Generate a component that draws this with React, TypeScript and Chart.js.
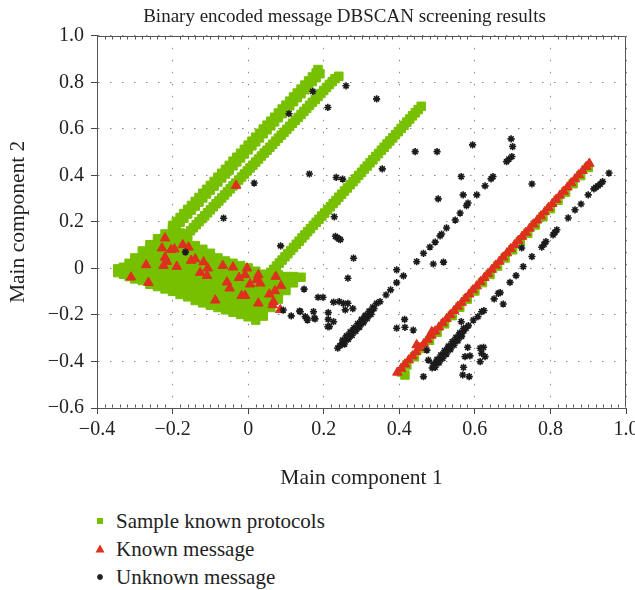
import React, { useEffect, useRef } from 'react';
import { Chart, registerables } from 'chart.js';

Chart.register(...registerables);

type P = [number, number];

const FONT = '"Liberation Serif", "DejaVu Serif", serif';
const GREEN = '#77c000';
const RED = '#de2f1f';
const BLACK = '#1b1b1b';

const chartTitle = 'Binary encoded message DBSCAN screening results';
const xAxisTitle = 'Main component 1';
const yAxisTitle = 'Main component 2';
const seriesNames = ['Sample known protocols', 'Known message', 'Unknown message'];
const xTickValues = [-0.4, -0.2, 0, 0.2, 0.4, 0.6, 0.8, 1.0];
const yTickValues = [-0.6, -0.4, -0.2, 0, 0.2, 0.4, 0.6, 0.8, 1.0];

// ---- Sample known protocols (green squares) ----
const sampleCluster: P[] = [
  [-0.345, -0.018], [-0.345, -0.002],
  [-0.33, -0.025], [-0.33, 0.005],
  [-0.315, -0.035], [-0.315, -0.005], [-0.315, 0.022],
  [-0.3, -0.045], [-0.3, -0.015], [-0.3, 0.015], [-0.3, 0.045],
  [-0.28, -0.052], [-0.28, -0.022], [-0.28, 0.008], [-0.28, 0.038], [-0.28, 0.075],
  [-0.26, -0.068], [-0.26, -0.038], [-0.26, -0.008], [-0.26, 0.022], [-0.26, 0.052], [-0.26, 0.082], [-0.26, 0.102],
  [-0.24, -0.078], [-0.24, -0.048], [-0.24, -0.018], [-0.24, 0.012], [-0.24, 0.042], [-0.24, 0.072], [-0.24, 0.1], [-0.24, 0.128],
  [-0.22, -0.088], [-0.22, -0.058], [-0.22, -0.028], [-0.22, 0.002], [-0.22, 0.032], [-0.22, 0.062], [-0.22, 0.092], [-0.22, 0.122], [-0.22, 0.148],
  [-0.2, -0.098], [-0.2, -0.068], [-0.2, -0.038], [-0.2, -0.008], [-0.2, 0.022], [-0.2, 0.052], [-0.2, 0.082], [-0.2, 0.112], [-0.2, 0.142], [-0.2, 0.165],
  [-0.18, -0.112], [-0.18, -0.082], [-0.18, -0.052], [-0.18, -0.022], [-0.18, 0.008], [-0.18, 0.038], [-0.18, 0.068], [-0.18, 0.098], [-0.18, 0.128], [-0.18, 0.152],
  [-0.16, -0.122], [-0.16, -0.092], [-0.16, -0.062], [-0.16, -0.032], [-0.16, -0.002], [-0.16, 0.028], [-0.16, 0.058], [-0.16, 0.088], [-0.16, 0.118],
  [-0.14, -0.138], [-0.14, -0.108], [-0.14, -0.078], [-0.14, -0.048], [-0.14, -0.018], [-0.14, 0.012], [-0.14, 0.042], [-0.14, 0.072], [-0.14, 0.098],
  [-0.12, -0.148], [-0.12, -0.118], [-0.12, -0.088], [-0.12, -0.058], [-0.12, -0.028], [-0.12, 0.002], [-0.12, 0.032], [-0.12, 0.062], [-0.12, 0.082],
  [-0.1, -0.158], [-0.1, -0.128], [-0.1, -0.098], [-0.1, -0.068], [-0.1, -0.038], [-0.1, -0.008], [-0.1, 0.022], [-0.1, 0.052], [-0.1, 0.065],
  [-0.08, -0.168], [-0.08, -0.138], [-0.08, -0.108], [-0.08, -0.078], [-0.08, -0.048], [-0.08, -0.018], [-0.08, 0.012], [-0.08, 0.045],
  [-0.06, -0.178], [-0.06, -0.148], [-0.06, -0.118], [-0.06, -0.088], [-0.06, -0.058], [-0.06, -0.028], [-0.06, 0.002], [-0.06, 0.032],
  [-0.04, -0.188], [-0.04, -0.158], [-0.04, -0.128], [-0.04, -0.098], [-0.04, -0.068], [-0.04, -0.038], [-0.04, -0.008], [-0.04, 0.022],
  [-0.02, -0.198], [-0.02, -0.168], [-0.02, -0.138], [-0.02, -0.108], [-0.02, -0.078], [-0.02, -0.048], [-0.02, -0.018], [-0.02, 0.012],
  [0.0, -0.208], [0.0, -0.178], [0.0, -0.148], [0.0, -0.118], [0.0, -0.088], [0.0, -0.058], [0.0, -0.028], [0.0, 0.002],
  [0.02, -0.222], [0.02, -0.192], [0.02, -0.162], [0.02, -0.132], [0.02, -0.102], [0.02, -0.072], [0.02, -0.042], [0.02, -0.012],
  [0.04, -0.205], [0.04, -0.175], [0.04, -0.145], [0.04, -0.115], [0.04, -0.085], [0.04, -0.055], [0.04, -0.025],
  [0.06, -0.168], [0.06, -0.138], [0.06, -0.108], [0.06, -0.078], [0.06, -0.048], [0.06, -0.022],
  [0.08, -0.132], [0.08, -0.102], [0.08, -0.072], [0.08, -0.042], [0.08, -0.028],
  [0.1, -0.095], [0.1, -0.065], [0.1, -0.035],
  [0.12, -0.062], [0.12, -0.035],
  [0.14, -0.038],
];

const sampleLineA: P[] = [
  [-0.2, 0.185], [-0.18, 0.219], [-0.16, 0.254], [-0.14, 0.288], [-0.12, 0.323], [-0.1, 0.357],
  [-0.08, 0.392], [-0.06, 0.426], [-0.04, 0.461], [-0.02, 0.495], [0.0, 0.53], [0.02, 0.564],
  [0.04, 0.599], [0.06, 0.633], [0.08, 0.668], [0.1, 0.702], [0.12, 0.737], [0.14, 0.771],
  [0.16, 0.806], [0.18, 0.84],
  [-0.19, 0.182], [-0.17, 0.216], [-0.15, 0.251], [-0.13, 0.285], [-0.11, 0.32], [-0.09, 0.354],
  [-0.07, 0.389], [-0.05, 0.423], [-0.03, 0.458], [-0.01, 0.492], [0.01, 0.527], [0.03, 0.561],
  [0.05, 0.596], [0.07, 0.63], [0.09, 0.665], [0.11, 0.699], [0.13, 0.734], [0.15, 0.768],
  [0.17, 0.803], [0.19, 0.837], [0.185, 0.855],
  [-0.19, 0.202], [-0.17, 0.236], [-0.15, 0.271], [-0.13, 0.305], [-0.11, 0.34], [-0.09, 0.374],
  [-0.07, 0.409], [-0.05, 0.443], [-0.03, 0.478], [-0.01, 0.512], [0.01, 0.547], [0.03, 0.581],
  [0.05, 0.616], [0.07, 0.65], [0.09, 0.685], [0.11, 0.719], [0.13, 0.754], [0.15, 0.788], [0.17, 0.823],
  [-0.2, 0.165], [-0.18, 0.199], [-0.16, 0.234], [-0.14, 0.268], [-0.12, 0.303], [-0.1, 0.337],
  [-0.08, 0.372], [-0.06, 0.406], [-0.04, 0.441], [-0.02, 0.475], [0.0, 0.51], [0.02, 0.544],
  [0.04, 0.579], [0.06, 0.613], [0.08, 0.648], [0.1, 0.682], [0.12, 0.717], [0.14, 0.751],
  [0.16, 0.786], [0.18, 0.82],
];

const sampleLineB: P[] = [
  [-0.19, 0.098], [-0.175, 0.124], [-0.16, 0.149], [-0.145, 0.175], [-0.13, 0.201], [-0.115, 0.226],
  [-0.1, 0.252], [-0.085, 0.278], [-0.07, 0.303], [-0.055, 0.329], [-0.04, 0.355], [-0.025, 0.38],
  [-0.01, 0.406], [0.005, 0.432], [0.02, 0.457], [0.035, 0.483], [0.05, 0.508], [0.065, 0.534],
  [0.08, 0.56], [0.095, 0.585], [0.11, 0.611], [0.125, 0.637], [0.14, 0.662], [0.155, 0.688],
  [0.17, 0.714], [0.185, 0.739], [0.2, 0.765], [0.215, 0.791], [0.23, 0.816], [0.24, 0.826],
  [-0.1825, 0.111], [-0.1675, 0.137], [-0.1525, 0.162], [-0.1375, 0.188], [-0.1225, 0.214],
  [-0.1075, 0.239], [-0.0925, 0.265], [-0.0775, 0.29], [-0.0625, 0.316], [-0.0475, 0.342],
  [-0.0325, 0.367], [-0.0175, 0.393], [-0.0025, 0.419], [0.0125, 0.444], [0.0275, 0.47],
  [0.0425, 0.496], [0.0575, 0.521], [0.0725, 0.547], [0.0875, 0.573], [0.1025, 0.598],
  [0.1175, 0.624], [0.1325, 0.649], [0.1475, 0.675], [0.1625, 0.701], [0.1775, 0.726],
  [0.1925, 0.752], [0.2075, 0.778], [0.2225, 0.803],
];

const sampleLineC: P[] = [
  [0.06, -0.017], [0.075, 0.01], [0.09, 0.036], [0.105, 0.063], [0.12, 0.09], [0.135, 0.117],
  [0.15, 0.144], [0.165, 0.171], [0.18, 0.198], [0.195, 0.225], [0.21, 0.252], [0.225, 0.279],
  [0.24, 0.306], [0.255, 0.333], [0.27, 0.36], [0.285, 0.386], [0.3, 0.413], [0.315, 0.44],
  [0.33, 0.467], [0.345, 0.494], [0.36, 0.521], [0.375, 0.548], [0.39, 0.575], [0.405, 0.602],
  [0.42, 0.629], [0.435, 0.656], [0.45, 0.683], [0.458, 0.697],
  [0.0675, -0.004], [0.0825, 0.023], [0.0975, 0.05], [0.1125, 0.077], [0.1275, 0.104],
  [0.1425, 0.131], [0.1575, 0.158], [0.1725, 0.185], [0.1875, 0.211], [0.2025, 0.238],
  [0.2175, 0.265], [0.2325, 0.292], [0.2475, 0.319], [0.2625, 0.346], [0.2775, 0.373],
  [0.2925, 0.4], [0.3075, 0.427], [0.3225, 0.454], [0.3375, 0.481], [0.3525, 0.508],
  [0.3675, 0.535], [0.3825, 0.561], [0.3975, 0.588], [0.4125, 0.615], [0.4275, 0.642], [0.4425, 0.669],
];

const sampleLineD: P[] = [
  [0.405, -0.445], [0.415, -0.458],
  [0.42, -0.415], [0.44, -0.38], [0.46, -0.344], [0.48, -0.309], [0.5, -0.274], [0.52, -0.238],
  [0.54, -0.203], [0.56, -0.167], [0.58, -0.132], [0.6, -0.097], [0.62, -0.061], [0.64, -0.026],
  [0.66, 0.01], [0.68, 0.045], [0.7, 0.08], [0.72, 0.116], [0.74, 0.151], [0.76, 0.187],
  [0.78, 0.222], [0.8, 0.257], [0.82, 0.293], [0.84, 0.328], [0.86, 0.364], [0.88, 0.399], [0.9, 0.434],
];

// ---- Known message (red triangles) ----
const knownCluster: P[] = [
  [-0.22, 0.13], [-0.228, 0.087], [-0.204, 0.08], [-0.195, 0.083], [-0.173, 0.101], [-0.158, 0.091],
  [-0.22, 0.047], [-0.215, 0.029], [-0.27, 0.015], [-0.224, 0.012], [-0.189, 0.008], [-0.31, -0.038],
  [-0.264, -0.061], [-0.151, 0.034], [-0.14, 0.04], [-0.118, 0.027], [-0.107, 0.001], [-0.127, -0.018],
  [-0.109, -0.031], [-0.067, 0.012], [-0.04, 0.005], [-0.003, 0.001], [-0.024, -0.04], [-0.008, -0.028],
  [-0.056, -0.059], [-0.049, -0.085], [0.005, -0.068], [0.027, -0.028], [0.023, -0.049], [0.032, -0.064],
  [0.073, -0.035], [0.087, -0.075], [0.071, -0.097], [0.056, -0.111], [-0.017, -0.117], [-0.008, -0.117],
  [-0.087, -0.137], [0.027, -0.15], [0.067, -0.143], [0.065, -0.157], [0.085, -0.178],
  [-0.032, 0.356],
];

const knownLineD: P[] = [
  [0.395, -0.447], [0.405, -0.43], [0.415, -0.412], [0.425, -0.394], [0.435, -0.377], [0.445, -0.359],
  [0.455, -0.341], [0.465, -0.324], [0.475, -0.306], [0.485, -0.288], [0.495, -0.27], [0.505, -0.253],
  [0.515, -0.235], [0.525, -0.217], [0.535, -0.2], [0.545, -0.182], [0.555, -0.164], [0.565, -0.147],
  [0.575, -0.129], [0.585, -0.111], [0.595, -0.093], [0.605, -0.076], [0.615, -0.058], [0.625, -0.04],
  [0.635, -0.023], [0.645, -0.005], [0.655, 0.013], [0.665, 0.03], [0.675, 0.048], [0.685, 0.066],
  [0.695, 0.084], [0.705, 0.101], [0.715, 0.119], [0.725, 0.137], [0.735, 0.154], [0.745, 0.172],
  [0.755, 0.19], [0.765, 0.207], [0.775, 0.225], [0.785, 0.243], [0.795, 0.261], [0.805, 0.278],
  [0.815, 0.296], [0.825, 0.314], [0.835, 0.331], [0.845, 0.349], [0.855, 0.367], [0.865, 0.384],
  [0.875, 0.402], [0.885, 0.42], [0.895, 0.437], [0.903, 0.451],
  [0.446, -0.329], [0.486, -0.272],
];

// ---- Unknown message (black stars) ----
const unknownLineE: P[] = [
  [0.237, -0.343], [0.243, -0.332], [0.249, -0.322], [0.255, -0.311], [0.261, -0.3], [0.267, -0.29],
  [0.273, -0.279], [0.279, -0.268], [0.285, -0.258], [0.291, -0.247], [0.297, -0.237], [0.303, -0.226],
  [0.309, -0.215], [0.315, -0.205], [0.321, -0.194], [0.327, -0.183], [0.333, -0.173],
  [0.255, -0.325], [0.265, -0.305], [0.275, -0.288], [0.285, -0.27], [0.295, -0.252], [0.305, -0.234],
  [0.315, -0.216], [0.325, -0.198],
  [0.25, -0.308], [0.26, -0.29], [0.27, -0.273], [0.28, -0.255], [0.29, -0.237], [0.3, -0.219],
  [0.31, -0.202], [0.32, -0.184], [0.33, -0.166],
  [0.34, -0.15], [0.349, -0.143], [0.365, -0.114], [0.377, -0.092], [0.393, -0.061], [0.411, -0.032],
  [0.393, -0.006], [0.446, 0.029], [0.464, 0.065], [0.481, 0.092], [0.495, 0.113], [0.508, 0.14],
  [0.512, 0.148], [0.525, 0.174], [0.548, 0.208], [0.561, 0.238], [0.578, 0.27], [0.582, 0.281],
  [0.605, 0.316], [0.627, 0.355], [0.643, 0.385], [0.648, 0.395], [0.684, 0.459], [0.69, 0.47],
  [0.698, 0.481], [0.7, 0.524], [0.696, 0.557],
];

const unknownLineF: P[] = [
  [0.487, -0.428], [0.493, -0.417], [0.499, -0.405], [0.505, -0.394], [0.511, -0.383], [0.517, -0.371],
  [0.523, -0.36], [0.529, -0.348], [0.535, -0.337], [0.541, -0.326], [0.547, -0.314], [0.553, -0.303],
  [0.559, -0.291], [0.565, -0.28], [0.571, -0.269], [0.577, -0.257], [0.583, -0.246],
  [0.495, -0.425], [0.505, -0.406], [0.515, -0.387], [0.525, -0.368], [0.535, -0.349], [0.545, -0.33],
  [0.555, -0.311], [0.565, -0.292],
  [0.49, -0.41], [0.5, -0.391], [0.51, -0.372], [0.52, -0.353], [0.53, -0.334], [0.54, -0.315],
  [0.55, -0.296], [0.56, -0.277], [0.57, -0.258],
  [0.596, -0.222], [0.608, -0.207], [0.618, -0.186], [0.624, -0.181], [0.651, -0.131], [0.662, -0.107],
  [0.667, -0.104], [0.693, -0.06], [0.709, -0.031], [0.728, 0.008], [0.751, 0.051], [0.777, 0.091],
  [0.783, 0.103], [0.788, 0.115], [0.807, 0.144], [0.812, 0.155], [0.817, 0.166], [0.847, 0.217],
  [0.865, 0.252], [0.881, 0.277], [0.9, 0.316], [0.915, 0.342], [0.92, 0.348], [0.926, 0.355],
  [0.932, 0.362], [0.938, 0.373], [0.955, 0.41],
];

const unknownScatter: P[] = [
  [0.259, 0.785], [0.171, 0.761], [0.34, 0.729], [0.108, 0.665], [0.211, 0.692], [0.442, 0.502],
  [0.5, 0.502], [0.594, 0.531], [0.355, 0.428], [0.162, 0.406], [0.233, 0.391], [0.25, 0.384],
  [0.016, 0.367], [0.564, 0.395], [0.503, 0.299], [0.569, 0.316], [0.228, 0.222], [-0.065, 0.216],
  [0.231, 0.138], [0.236, 0.132], [0.24, 0.127], [0.244, 0.124], [0.086, 0.097], [0.279, 0.044],
  [0.49, 0.019], [0.517, 0.027], [0.264, -0.042], [0.751, 0.363], [0.724, 0.088], [0.675, -0.153],
  [-0.166, 0.07],
  [0.148, -0.089], [0.185, -0.124], [0.198, -0.124], [0.226, -0.145], [0.241, -0.143], [0.252, -0.15],
  [0.264, -0.15], [0.257, -0.178], [0.277, -0.173], [0.138, -0.186], [0.173, -0.186], [0.212, -0.19],
  [0.151, -0.207], [0.157, -0.222], [0.177, -0.217], [0.212, -0.219], [0.226, -0.229], [0.215, -0.25],
  [0.093, -0.179], [0.114, -0.204], [0.136, -0.183], [0.155, -0.214], [0.175, -0.214], [0.211, -0.25],
  [0.414, -0.219], [0.393, -0.257], [0.415, -0.253], [0.437, -0.265], [0.473, -0.351], [0.477, -0.394],
  [0.464, -0.465], [0.564, -0.229], [0.581, -0.339], [0.587, -0.376], [0.574, -0.379], [0.57, -0.425],
  [0.568, -0.458], [0.585, -0.465], [0.614, -0.343], [0.623, -0.339], [0.618, -0.365], [0.627, -0.379],
  [0.614, -0.401],
];

const fmt = (v: number) => {
  if (Math.abs(v) < 1e-9) return '0';
  const s = Math.abs(v).toFixed(1);
  return v < 0 ? '\u2212' + s : s;
};

const toPts = (arr: P[]) => arr.map(([x, y]) => ({ x, y }));

const framePlugin = {
  id: 'frame',
  afterLayout(chart: any) {
    // the reference title sits a little left of the plot centre
    const tb = chart.titleBlock;
    if (tb) {
      tb.left = tb.left - 34;
      tb.width = tb.right - tb.left;
    }
  },
  afterDraw(chart: any) {
    const { ctx, chartArea } = chart;
    const xs = chart.scales.x;
    const l = Math.round(chartArea.left) + 0.5;
    const r = Math.round(chartArea.right) - 0.5;
    const t = Math.round(chartArea.top) + 0.5;
    const b = Math.round(chartArea.bottom) - 0.5;
    ctx.save();
    ctx.strokeStyle = '#555';
    ctx.lineWidth = 1;
    ctx.beginPath();
    ctx.moveTo(l, t);
    ctx.lineTo(r, t);
    ctx.lineTo(r, b);
    ctx.stroke();
    ctx.beginPath();
    for (let i = 1; i < 70; i++) {
      if (i % 10 === 0) continue;
      const v = -0.4 + i * 0.02;
      const px = Math.round(xs.getPixelForValue(v)) + 0.5;
      ctx.moveTo(px, b);
      ctx.lineTo(px, b - 3);
      ctx.moveTo(px, t);
      ctx.lineTo(px, t + 3);
    }
    ctx.stroke();
    ctx.restore();
  },
};

function Marker({ kind }: { kind: 'rect' | 'tri' | 'star' }) {
  return (
    <svg width={16} height={16} viewBox="0 0 16 16" style={{ display: 'block' }}>
      {kind === 'rect' && <rect x={5} y={5} width={6} height={6} fill={GREEN} />}
      {kind === 'tri' && <polygon points="8,3.5 12.5,11.5 3.5,11.5" fill={RED} />}
      {kind === 'star' && (
        <g stroke={BLACK} strokeWidth={1.6}>
          <line x1={8} y1={5} x2={8} y2={11} />
          <line x1={5} y1={8} x2={11} y2={8} />
          <line x1={5.9} y1={5.9} x2={10.1} y2={10.1} />
          <line x1={10.1} y1={5.9} x2={5.9} y2={10.1} />
        </g>
      )}
    </svg>
  );
}

export default function App() {
  const ref = useRef<HTMLCanvasElement>(null);

  useEffect(() => {
    if (!ref.current) return;
    const chart = new Chart(ref.current, {
      type: 'scatter',
      data: {
        datasets: [
          {
            label: seriesNames[0],
            data: toPts([...sampleCluster, ...sampleLineA, ...sampleLineB, ...sampleLineC, ...sampleLineD]),
            pointStyle: 'rect',
            pointRadius: 6,
            backgroundColor: GREEN,
            borderColor: GREEN,
            borderWidth: 1,
            order: 3,
          },
          {
            label: seriesNames[1],
            data: toPts([...knownCluster, ...knownLineD]),
            pointStyle: 'triangle',
            pointRadius: 5.5,
            backgroundColor: RED,
            borderColor: RED,
            borderWidth: 1,
            order: 2,
          },
          {
            label: seriesNames[2],
            data: toPts([...unknownLineE, ...unknownLineF, ...unknownScatter]),
            pointStyle: 'star',
            pointRadius: 3.6,
            backgroundColor: BLACK,
            borderColor: BLACK,
            borderWidth: 1.6,
            order: 1,
          },
        ],
      },
      options: {
        animation: false,
        responsive: false,
        devicePixelRatio: 1,
        events: [],
        layout: { padding: { right: 9, left: 0, top: 0, bottom: 0 } },
        plugins: {
          legend: { display: false },
          tooltip: { enabled: false },
          title: {
            display: true,
            text: chartTitle,
            fullSize: false,
            color: '#222',
            font: { family: FONT, size: 19, weight: 'normal' },
            padding: { top: 6, bottom: 7 },
          },
        },
        scales: {
          x: {
            type: 'linear',
            min: -0.4,
            max: 1.0,
            afterBuildTicks: (s: any) => {
              s.ticks = xTickValues.map((value) => ({ value }));
            },
            afterFit: (s: any) => {
              s.height = 92;
              s.paddingLeft = 0;
              s.paddingRight = 0;
            },
            ticks: {
              callback: (v: any) => fmt(Number(v)),
              color: '#222',
              font: { family: FONT, size: 20 },
              padding: 4,
              maxRotation: 0,
              autoSkip: false,
            },
            grid: { color: '#888', lineWidth: 1, tickLength: 6, tickColor: '#444', drawTicks: true },
            border: { display: true, color: '#555', width: 1, dash: [1.5, 10.5] },
            title: {
              display: true,
              text: xAxisTitle,
              color: '#222',
              font: { family: FONT, size: 21.5 },
              padding: { top: 4, bottom: 9 },
            },
          },
          y: {
            type: 'linear',
            min: -0.6,
            max: 1.0,
            afterBuildTicks: (s: any) => {
              s.ticks = yTickValues.map((value) => ({ value }));
            },
            afterFit: (s: any) => {
              s.width = 97;
              s.paddingTop = 0;
              s.paddingBottom = 0;
            },
            ticks: {
              callback: (v: any) => fmt(Number(v)),
              color: '#222',
              font: { family: FONT, size: 20 },
              padding: 7,
              autoSkip: false,
            },
            grid: { color: '#888', lineWidth: 1, tickLength: 6, tickColor: '#444', drawTicks: true },
            border: { display: true, color: '#555', width: 1, dash: [1.5, 10.5] },
            title: {
              display: true,
              text: yAxisTitle,
              color: '#222',
              font: { family: FONT, size: 21.5 },
              padding: { top: 5, bottom: 0 },
            },
          },
        },
      },
      plugins: [framePlugin],
    });
    return () => chart.destroy();
  }, []);

  const legendRows: { kind: 'rect' | 'tri' | 'star'; text: string; cy: number }[] = [
    { kind: 'rect', text: seriesNames[0], cy: 521 },
    { kind: 'tri', text: seriesNames[1], cy: 549 },
    { kind: 'star', text: seriesNames[2], cy: 577 },
  ];

  return (
    <div style={{ position: 'absolute', left: 0, top: 0, width: 635, height: 590, background: '#fff', overflow: 'hidden' }}>
      <canvas ref={ref} width={635} height={500} style={{ display: 'block', width: 635, height: 500 }} />
      {legendRows.map((r) => (
        <div
          key={r.text}
          style={{
            position: 'absolute',
            left: 92,
            top: r.cy - 13,
            height: 26,
            display: 'flex',
            alignItems: 'center',
            fontFamily: FONT,
            fontSize: 21,
            color: '#222',
            whiteSpace: 'nowrap',
          }}
        >
          <Marker kind={r.kind} />
          <span style={{ marginLeft: 8, lineHeight: '26px' }}>{r.text}</span>
        </div>
      ))}
    </div>
  );
}
